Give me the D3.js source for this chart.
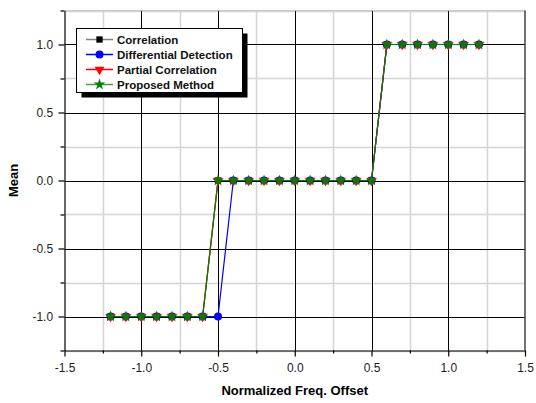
<!DOCTYPE html>
<html><head><meta charset="utf-8">
<script src="https://cdn.jsdelivr.net/npm/d3@7"></script>
<style>body{margin:0;background:#fff}svg{display:block}</style>
</head><body><svg id="c" width="536" height="403"></svg>
<script>
const xs = [-1.2,-1.1,-1.0,-0.9,-0.8,-0.7,-0.6,-0.5,-0.4,-0.3,-0.2,-0.1,0.0,0.1,0.2,0.3,0.4,0.5,0.6,0.7,0.8,0.9,1.0,1.1,1.2];
const correlation = [-1,-1,-1,-1,-1,-1,-1,0,0,0,0,0,0,0,0,0,0,0,1,1,1,1,1,1,1];
const differential = [-1,-1,-1,-1,-1,-1,-1,-1,0,0,0,0,0,0,0,0,0,0,1,1,1,1,1,1,1];
const partial = [-1,-1,-1,-1,-1,-1,-1,0,0,0,0,0,0,0,0,0,0,0,1,1,1,1,1,1,1];
const proposed = [-1,-1,-1,-1,-1,-1,-1,0,0,0,0,0,0,0,0,0,0,0,1,1,1,1,1,1,1];
const seriesNames = ["Correlation","Differential Detection","Partial Correlation","Proposed Method"];
const xTicks = [-1.5,-1.0,-0.5,0.0,0.5,1.0,1.5];
const yTicks = [-1.0,-0.5,0.0,0.5,1.0];
const xMinor = [-1.25,-0.75,-0.25,0.25,0.75,1.25];
const yMinor = [-1.25,-0.75,-0.25,0.25,0.75,1.25];

const styles = [
  {line:"#808080", fill:"#000", sym:d3.symbolSquare, size:40, legLine:"#808080"},
  {line:"#0000ff", fill:"#0000ff", sym:d3.symbolCircle, size:50, legLine:"#0000ff"},
  {line:"#ff0000", fill:"#ff0000", sym:d3.symbolTriangle, size:42, rot:180, legLine:"#ff0000"},
  {line:"#008000", fill:"#008000", sym:d3.symbolStar, size:42, legLine:"#4a9a4a"}
];
const allSeries = [correlation, differential, partial, proposed];

const svg = d3.select("#c");
const x = d3.scaleLinear().domain([-1.5,1.5]).range([64.5,525]);
const y = d3.scaleLinear().domain([-1.25,1.25]).range([350.5,10.5]);
const font = "'Liberation Sans', Arial, sans-serif";
const fmt = d => d3.format(".1f")(d).replace("\u2212","-");

// grid
const g = svg.append("g");
g.selectAll(".vmin").data(xMinor).join("line").attr("x1",d=>Math.round(x(d))+0.5).attr("x2",d=>Math.round(x(d))+0.5).attr("y1",y(1.25)).attr("y2",y(-1.25)).attr("stroke","#d4d4d4").attr("stroke-width",1.5);
g.selectAll(".hmin").data(yMinor).join("line").attr("y1",d=>Math.round(y(d))+0.5).attr("y2",d=>Math.round(y(d))+0.5).attr("x1",x(-1.5)).attr("x2",x(1.5)).attr("stroke","#d4d4d4").attr("stroke-width",1.5);
g.selectAll(".vmaj").data(xTicks.slice(1,-1)).join("line").attr("x1",d=>Math.round(x(d))+0.5).attr("x2",d=>Math.round(x(d))+0.5).attr("y1",y(1.25)).attr("y2",y(-1.25)).attr("stroke","#000").attr("stroke-width",1);
g.selectAll(".hmaj").data(yTicks).join("line").attr("y1",d=>Math.round(y(d))+0.5).attr("y2",d=>Math.round(y(d))+0.5).attr("x1",x(-1.5)).attr("x2",x(1.5)).attr("stroke","#000").attr("stroke-width",1);
// top and right frame
svg.append("line").attr("x1",x(-1.5)).attr("x2",x(1.5)).attr("y1",y(1.25)).attr("y2",y(1.25)).attr("stroke","#c8c8c8").attr("stroke-width",1);
svg.append("line").attr("x1",x(1.5)).attr("x2",x(1.5)).attr("y1",y(1.25)).attr("y2",y(-1.25)).attr("stroke","#444").attr("stroke-width",1.5);

// axes
const ax = svg.append("g").attr("transform",`translate(0,${y(-1.25)})`)
  .call(d3.axisBottom(x).tickValues(xTicks).tickSize(6).tickSizeOuter(0).tickFormat(fmt));
svg.append("g").attr("transform",`translate(0,${y(-1.25)})`)
  .call(d3.axisBottom(x).tickValues(xMinor).tickSize(3).tickSizeOuter(0).tickFormat("")).select(".domain").remove();
const ay = svg.append("g").attr("transform",`translate(${x(-1.5)},0)`)
  .call(d3.axisLeft(y).tickValues(yTicks).tickSize(6).tickSizeOuter(0).tickFormat(fmt));
svg.append("g").attr("transform",`translate(${x(-1.5)},0)`)
  .call(d3.axisLeft(y).tickValues(yMinor).tickSize(4).tickSizeOuter(0).tickFormat("")).select(".domain").remove();
svg.selectAll(".tick text").attr("font-family",font).attr("font-size",12).attr("fill","#222");
ax.selectAll(".tick text").attr("dy","1.05em");
ay.selectAll(".tick text").attr("dx","-0.2em");
svg.selectAll(".domain").attr("stroke","#000").attr("stroke-width",1.2);
svg.selectAll(".tick line").attr("stroke","#000").attr("stroke-width",1.2);

// titles
svg.append("text").attr("x",(x(-1.5)+x(1.5))/2).attr("y",395).attr("text-anchor","middle")
  .attr("font-family",font).attr("font-weight","bold").attr("font-size",13).text("Normalized Freq. Offset");
svg.append("text").attr("transform",`translate(18,${y(0)}) rotate(-90)`).attr("text-anchor","middle")
  .attr("font-family",font).attr("font-weight","bold").attr("font-size",13).text("Mean");

// series
allSeries.forEach((s,i)=>{
  const st = styles[i];
  const line = d3.line().x((d,j)=>x(xs[j])).y(d=>y(d));
  svg.append("path").datum(s).attr("d",line).attr("fill","none").attr("stroke",st.line).attr("stroke-width",1.2);
});
allSeries.forEach((s,i)=>{
  const st = styles[i];
  svg.append("g").selectAll("path").data(s).join("path")
    .attr("transform",(d,j)=>`translate(${x(xs[j])},${y(d)}) rotate(${st.rot||0})`)
    .attr("d",d3.symbol().type(st.sym).size(st.size)).attr("fill",st.fill);
});

// legend
const L = svg.append("g");
L.append("rect").attr("x",81.5).attr("y",33.5).attr("width",166).attr("height",64).attr("fill","#000");
L.append("rect").attr("x",76.5).attr("y",28.5).attr("width",166).attr("height",64).attr("fill","#fff").attr("stroke","#000").attr("stroke-width",1);
seriesNames.forEach((n,i)=>{
  const st = styles[i];
  const ry = 39.5 + i*15;
  L.append("line").attr("x1",86).attr("x2",113).attr("y1",ry).attr("y2",ry).attr("stroke",st.legLine).attr("stroke-width",1.5);
  L.append("path").attr("transform",`translate(99.5,${ry}) rotate(${st.rot||0})`).attr("d",d3.symbol().type(st.sym).size(st.size)).attr("fill",st.fill);
  L.append("text").attr("x",117).attr("y",ry).attr("dy","0.36em").attr("font-family",font).attr("font-weight","bold").attr("font-size",11.5).attr("fill","#111").text(n);
});
</script></body></html>
